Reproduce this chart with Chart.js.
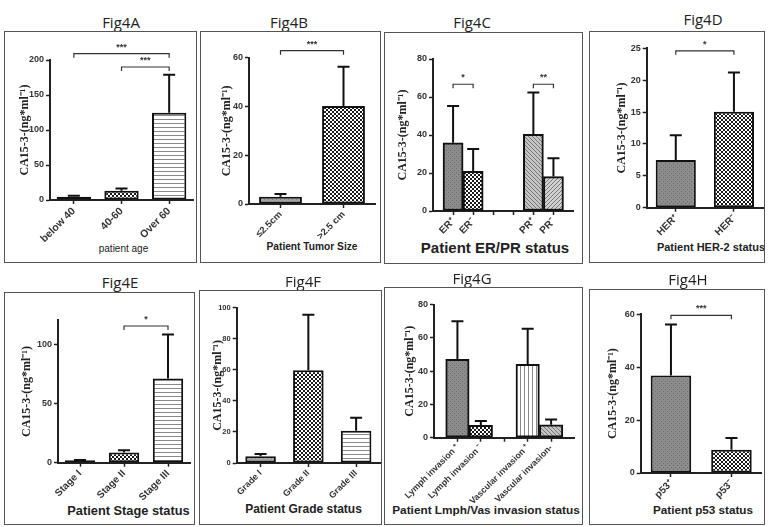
<!DOCTYPE html>
<html>
<head>
<meta charset="utf-8">
<script src="https://cdn.jsdelivr.net/npm/chart.js@4"></script>
<style>
  body { margin: 0; background: #fff; width: 769px; height: 527px; position: relative; overflow: hidden; }
  .frame { position: absolute; border: 1px solid #555; box-sizing: border-box; pointer-events: none; }
  .cap { position: absolute; font: 15px 'Open Sans', sans-serif; line-height: 15px; color: #222; transform: translateX(-50%); white-space: nowrap; }
  .xt { position: absolute; font-family: 'Liberation Sans', Arial, sans-serif; line-height: 1; color: #222; transform: translate(-50%, -50%); white-space: nowrap; }
  canvas { position: absolute; }
</style>
</head>
<body>
<script>
// Fig4A - patient age
const ageLabels = ['below 40', '40-60', 'Over 60'];
const ageMean = [4.5, 13.3, 124.5];
const ageSD = [1.5, 3.2, 54.5];
const ageSig = [[0, 2, 209, '***'], [1, 2, 190, '***']];

// Fig4B - tumor size
const sizeLabels = ['≤2.5cm', '>2.5 cm'];
const sizeMean = [3.0, 40.2];
const sizeSD = [1.1, 16.1];
const sizeSig = [[0, 1, 62.9, '***']];

// Fig4C - ER/PR (blank slots keep the gap between the two groups)
const erprLabels = ['', 'ER⁺', 'ER⁻', '', '', 'PR⁺', 'PR⁻', ''];
const erprMean = [null, 35.9, 20.9, null, null, 40.4, 18.1, null];
const erprSD = [null, 19.4, 11.7, null, null, 22.0, 9.6, null];
const erprSig = [[1, 2, 66.7, '*'], [5, 6, 66.7, '**']];

// Fig4D - HER-2
const herLabels = ['HER⁺', 'HER⁻'];
const herMean = [7.5, 15.05];
const herSD = [3.85, 6.15];
const herSig = [[0, 1, 24.6, '*']];

// Fig4E - stage
const stageLabels = ['Stage I', 'Stage II', 'Stage III'];
const stageMean = [2.0, 8.5, 71];
const stageSD = [0.3, 1.9, 37];
const stageSig = [[1, 2, 115.2, '*']];

// Fig4F - grade
const gradeLabels = ['Grade I', 'Grade II', 'Grade III'];
const gradeMean = [4.3, 59.7, 20.8];
const gradeSD = [1.5, 35.8, 8.4];
const gradeSig = [];

// Fig4G - lymph / vascular invasion
const invLabels = ['', 'Lymph invasion ⁺', 'Lymph invasion ⁻', '', 'Vascular invasion ⁺', 'Vascular invasion-', ''];
const invMean = [null, 47.1, 7.4, null, 44.1, 7.8, null];
const invSD = [null, 22.9, 2.6, null, 21.5, 3.2, null];
const invSig = [];

// Fig4H - p53
const p53Labels = ['p53⁺', 'p53⁻'];
const p53Mean = [36.9, 8.8];
const p53SD = [19.2, 4.4];
const p53Sig = [[0, 1, 59.6, '***']];

const yTitle = 'CA15-3-(ng*ml⁻¹)';

function pattern(kind) {
  const c = document.createElement('canvas');
  const g = c.getContext('2d');
  c.width = 4; c.height = 4;
  if (kind === 'check') {
    g.fillStyle = '#fff'; g.fillRect(0, 0, 4, 4);
    g.fillStyle = '#1a1a1a'; g.fillRect(0, 0, 2, 2); g.fillRect(2, 2, 2, 2);
  } else if (kind === 'hline') {
    g.fillStyle = '#fff'; g.fillRect(0, 0, 4, 4);
    g.fillStyle = '#8a8a8a'; g.fillRect(0, 0, 4, 1);
  } else if (kind === 'vline') {
    g.fillStyle = '#fff'; g.fillRect(0, 0, 4, 4);
    g.fillStyle = '#888'; g.fillRect(0, 0, 1, 4);
  } else if (kind === 'diag' || kind === 'diag2') {
    g.fillStyle = kind === 'diag' ? '#c4c4c4' : '#d2d2d2'; g.fillRect(0, 0, 4, 4);
    g.fillStyle = '#777';
    for (let i = 0; i < 4; i++) g.fillRect(kind === 'diag' ? i : 3 - i, i, 1, 1);
  } else if (kind === 'gray') {
    g.fillStyle = '#8c8c8c'; g.fillRect(0, 0, 4, 4);
    g.fillStyle = '#6c6c6c'; g.fillRect(0, 0, 1, 1); g.fillRect(2, 2, 1, 1);
  } else {
    g.fillStyle = '#a4a4a4'; g.fillRect(0, 0, 4, 4);
    g.fillStyle = '#7a7a7a'; g.fillRect(0, 0, 1, 1); g.fillRect(2, 2, 1, 1);
  }
  return g.createPattern(c, 'repeat');
}

// error bars (mean + SD, upper only) and significance brackets
const sdPlugin = {
  id: 'sd',
  afterDraw(chart, args, opts) {
    const ctx = chart.ctx, y = chart.scales.y;
    const meta = chart.getDatasetMeta(0);
    const mean = chart.data.datasets[0].data;
    const sd = opts.sd || [];
    ctx.save();
    ctx.strokeStyle = '#111';
    ctx.lineWidth = 2;
    meta.data.forEach((bar, i) => {
      if (mean[i] == null || !sd[i]) return;
      const top = y.getPixelForValue(mean[i] + sd[i]);
      ctx.beginPath();
      ctx.moveTo(bar.x, bar.y);
      ctx.lineTo(bar.x, top);
      ctx.moveTo(bar.x - 6, top);
      ctx.lineTo(bar.x + 6, top);
      ctx.stroke();
    });
    (opts.sig || []).forEach(([a, b, v, txt]) => {
      const x1 = meta.data[a].x, x2 = meta.data[b].x, py = y.getPixelForValue(v);
      ctx.lineWidth = 1.2;
      ctx.strokeStyle = '#333';
      ctx.beginPath();
      ctx.moveTo(x1, py + 4); ctx.lineTo(x1, py); ctx.lineTo(x2, py); ctx.lineTo(x2, py + 4);
      ctx.stroke();
      ctx.fillStyle = '#333';
      ctx.font = 'bold 9px "Liberation Sans"';
      ctx.textAlign = 'center';
      ctx.textBaseline = 'bottom';
      ctx.fillText(txt, (x1 + x2) / 2, py - 2);
    });
    ctx.restore();
  }
};

// box = frame on the page, area = plot area inside the frame, yL = left edge of the y title
const panels = [
  { cap: 'Fig4A', capAt: [121, 28], box: [4, 31, 193, 232], area: [46, 29, 189, 169], yL: 13.8,
    labels: ageLabels, mean: ageMean, sd: ageSD, sig: ageSig, fills: ['lgray', 'check', 'hline'],
    yMax: 200, step: 50, bar: 0.72, offset: true, yTick: 9, xTick: 10.5,
    xTitle: 'patient age', xAt: [123.5, 249], xFont: '10px', xWeight: 'normal' },
  { cap: 'Fig4B', capAt: [289, 28], box: [200, 31, 181, 232], area: [49, 26.7, 175, 173], yL: 19.5,
    labels: sizeLabels, mean: sizeMean, sd: sizeSD, sig: sizeSig, fills: ['lgray', 'check'],
    yMax: 60, step: 20, bar: 0.68, offset: true, yTick: 9, xTick: 9.5,
    xTitle: 'Patient Tumor Size', xAt: [312, 247], xFont: '10.2px', xWeight: 'bold' },
  { cap: 'Fig4C', capAt: [472, 28], box: [384, 32, 199, 232], area: [49, 27, 196, 179], yL: 12,
    labels: erprLabels, mean: erprMean, sd: erprSD, sig: erprSig, fills: [null, 'gray', 'check', null, null, 'diag', 'diag2', null],
    yMax: 80, step: 20, bar: 1, offset: false, yTick: 9, xTick: 10,
    xTitle: 'Patient ER/PR status', xAt: [495, 247], xFont: '15px', xWeight: 'bold' },
  { cap: 'Fig4D', capAt: [703, 25], box: [589, 31, 176, 232], area: [57.7, 17.3, 174, 176.7], yL: 25.5,
    labels: herLabels, mean: herMean, sd: herSD, sig: herSig, fills: ['gray', 'check'],
    yMax: 25, step: 5, bar: 0.69, offset: true, yTick: 9, xTick: 10,
    xTitle: 'Patient HER-2 status', xAt: [711, 247], xFont: '11px', xWeight: 'bold' },
  { cap: 'Fig4E', capAt: [120, 288], box: [4, 292, 191, 233], area: [54, 28.3, 186, 170.7], yL: 15.5,
    labels: stageLabels, mean: stageMean, sd: stageSD, sig: stageSig, fills: ['lgray', 'check', 'hline'],
    yMax: 120, step: 50, bar: 0.69, offset: true, yTick: 9, xTick: 10,
    xTitle: 'Patient Stage status', xAt: [128.5, 511], xFont: '12.8px', xWeight: 'bold' },
  { cap: 'Fig4F', capAt: [303, 287], box: [199, 290, 183, 235], area: [37.7, 17.7, 181, 173], yL: 12,
    labels: gradeLabels, mean: gradeMean, sd: gradeSD, sig: gradeSig, fills: ['lgray', 'check', 'hline'],
    yMax: 100, step: 20, bar: 0.64, offset: true, yTick: 7.5, xTick: 9,
    xTitle: 'Patient Grade status', xAt: [303.5, 508.7], xFont: '12px', xWeight: '600' },
  { cap: 'Fig4G', capAt: [472, 284], box: [384, 287, 199, 238], area: [50, 17.7, 198, 150.7], yL: 18.8,
    labels: invLabels, mean: invMean, sd: invSD, sig: invSig, fills: [null, 'gray', 'check', null, 'vline', 'diag', null],
    yMax: 80, step: 20, bar: 1, offset: false, yTick: 9, xTick: 8.8,
    xTitle: 'Patient Lmph/Vas invasion status', xAt: [486, 511], xFont: '11.8px', xWeight: 'bold' },
  { cap: 'Fig4H', capAt: [688, 285], box: [589, 289, 176, 236], area: [51.7, 25.3, 172.7, 184], yL: 17,
    labels: p53Labels, mean: p53Mean, sd: p53SD, sig: p53Sig, fills: ['gray', 'check'],
    yMax: 60, step: 20, bar: 0.67, offset: true, yTick: 9, xTick: 10,
    xTitle: 'Patient p53 status', xAt: [703, 510], xFont: '11.7px', xWeight: 'bold' }
];

function addText(cls, text, x, y, style) {
  const d = document.createElement('div');
  d.className = cls;
  d.textContent = text;
  d.style.left = x + 'px';
  d.style.top = y + 'px';
  Object.assign(d.style, style || {});
  document.body.appendChild(d);
}

panels.forEach(p => {
  const [bx, by, bw, bh] = p.box;
  const [al, at, ar, ab] = p.area;
  addText('cap', p.cap, p.capAt[0], p.capAt[1] - 13);
  addText('xt', p.xTitle, p.xAt[0], p.xAt[1], { fontSize: p.xFont, fontWeight: p.xWeight });

  const cv = document.createElement('canvas');
  cv.width = bw; cv.height = bh;
  cv.style.left = bx + 'px'; cv.style.top = by + 'px';
  document.body.appendChild(cv);

  const frame = document.createElement('div');
  frame.className = 'frame';
  Object.assign(frame.style, { left: bx + 'px', top: by + 'px', width: bw + 'px', height: bh + 'px' });
  document.body.appendChild(frame);

  const last = p.labels.length - 1;
  new Chart(cv, {
    type: 'bar',
    data: {
      labels: p.labels,
      datasets: [{
        data: p.mean,
        backgroundColor: p.fills.map(f => f ? pattern(f) : 'transparent'),
        borderColor: '#111',
        borderWidth: 2,
        borderSkipped: false,
        barPercentage: p.bar,
        categoryPercentage: 1
      }]
    },
    options: {
      responsive: false,
      animation: false,
      layout: { padding: { left: p.yL, top: at, right: bw - ar, bottom: 0 } },
      scales: {
        x: {
          offset: p.offset,
          afterFit: s => { s.height = bh - ab; },
          border: { color: '#222', width: 2 },
          grid: {
            offset: false, drawOnChartArea: false, tickLength: 4, tickWidth: 1.5,
            tickColor: c => (!p.offset && (c.index === 0 || c.index === last)) ? 'transparent' : '#222'
          },
          ticks: {
            autoSkip: false, minRotation: 45, maxRotation: 45, padding: 1, color: '#333',
            font: { family: 'Liberation Sans', size: p.xTick, weight: 'bold' }
          }
        },
        y: {
          min: 0, max: p.yMax,
          afterFit: s => { s.width = al - p.yL; },
          border: { color: '#222', width: 2 },
          grid: { drawOnChartArea: false, tickLength: 4, tickWidth: 1.5, tickColor: '#222' },
          ticks: {
            stepSize: p.step, includeBounds: false, padding: 2, color: '#333',
            font: { family: 'Liberation Sans', size: p.yTick, weight: 'bold' }
          },
          title: {
            display: true, text: yTitle, color: '#222', padding: 0,
            font: { family: 'Liberation Serif', size: 12, weight: 'bold' }
          }
        }
      },
      plugins: {
        legend: { display: false },
        tooltip: { enabled: false },
        sd: { sd: p.sd, sig: p.sig }
      }
    },
    plugins: [sdPlugin]
  });
});
</script>
</body>
</html>
